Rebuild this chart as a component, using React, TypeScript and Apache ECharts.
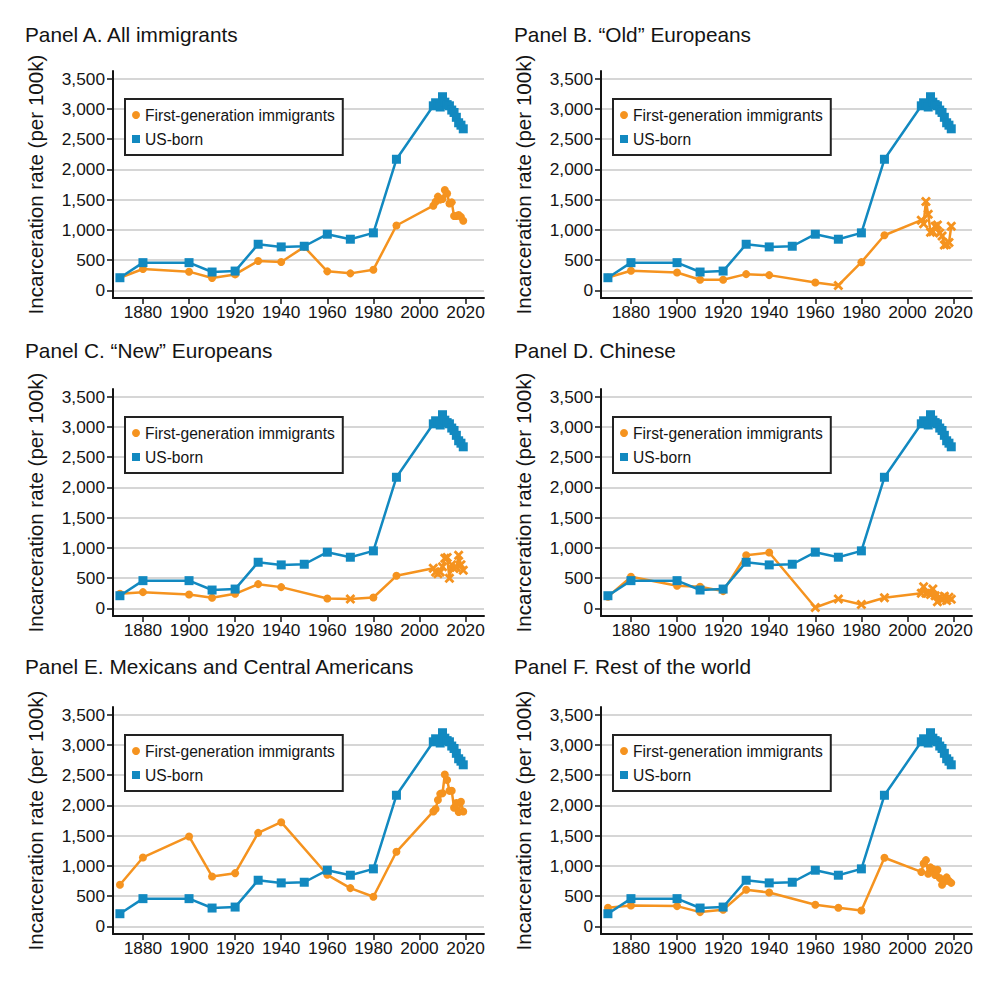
import React, { useEffect, useRef } from "react";
import * as echarts from "echarts";

const YEARS = [1870, 1880, 1900, 1910, 1920, 1930, 1940, 1950, 1960, 1970, 1980, 1990,
  2006, 2007, 2008, 2009, 2010, 2011, 2012, 2013, 2014, 2015, 2016, 2017, 2018, 2019];
const RECENT = [2006, 2007, 2008, 2009, 2010, 2011, 2012, 2013, 2014, 2015, 2016, 2017, 2018, 2019];

const US_BORN = [210, 459, 459, 304, 320, 763, 719, 730, 929, 846, 951, 2167,
  3050, 3100, 3080, 3030, 3200, 3110, 3070, 3050, 2980, 2940, 2860, 2770, 2730, 2670];

const IMM_A = [210, 354, 310, 205, 265, 487, 470, 719, 315, 282, 343, 1073,
  1400, 1465, 1550, 1500, 1510, 1660, 1600, 1435, 1455, 1230, 1230, 1245, 1215, 1150];
const IMM_B = [214, 324, 297, 176, 176, 269, 253, null, 132, 82, 467, 912,
  1160, 1100, 1470, 1260, 960, 970, 1060, 1080, 950, 900, 750, 760, 790, 1060];
const IMM_C = [242, 269, 231, 176, 242, 401, 352, null, 165, 154, 181, 539,
  665, 600, 575, 600, 690, 830, 840, 500, 720, 660, 680, 880, 720, 630];
const IMM_D = [192, 522, 374, 357, 286, 879, 923, null, 16, 154, 66, 176,
  250, 360, 250, 260, 230, 320, 210, 110, 190, 140, 200, 130, 185, 150];
const IMM_E = [688, 1139, 1486, 825, 880, 1546, 1722, null, 853, 633, 490, 1233,
  1900, 1940, 2090, 2190, 2200, 2510, 2420, 2240, 2240, 1960, 2040, 1890, 2060, 1900];
const IMM_F = [308, 347, 336, 237, 275, 605, 561, null, 358, 308, 264, 1134,
  900, 1040, 1095, 870, 975, 950, 850, 935, 800, 690, 740, 810, 750, 720];

// years whose estimate is drawn with an "x" marker
const CROSS_A: number[] = [];
const CROSS_B = [1970, ...RECENT];
const CROSS_C = [1970, ...RECENT];
const CROSS_D = [1960, 1970, 1980, 1990, ...RECENT];
const CROSS_E: number[] = [];
const CROSS_F: number[] = [];

const TITLES = [
  "Panel A. All immigrants",
  "Panel B. \u201COld\u201D Europeans",
  "Panel C. \u201CNew\u201D Europeans",
  "Panel D. Chinese",
  "Panel E. Mexicans and Central Americans",
  "Panel F. Rest of the world",
];
const IMM = [IMM_A, IMM_B, IMM_C, IMM_D, IMM_E, IMM_F];
const CROSSES = [CROSS_A, CROSS_B, CROSS_C, CROSS_D, CROSS_E, CROSS_F];

const Y_TICKS = [0, 500, 1000, 1500, 2000, 2500, 3000, 3500];
const X_TICKS = [1880, 1900, 1920, 1940, 1960, 1980, 2000, 2020];

const IMM_NAME = "First-generation immigrants";
const US_NAME = "US-born";

const ORANGE = "#F5931F";
const BLUE = "#1289C0";
const INK = "#141414";
const FONT = "'Liberation Sans', Arial, Helvetica, sans-serif";
const CROSS_PATH =
  "path://M2,0 L5,3 L8,0 L10,2 L7,5 L10,8 L8,10 L5,7 L2,10 L0,8 L3,5 L0,2 Z";

export default function App() {
  const ref = useRef<HTMLDivElement>(null);
  useEffect(() => {
    if (!ref.current) return;
    const chart = echarts.init(ref.current, undefined, { renderer: "svg" });
    const colLeft = [113, 601];
    const rowTop = [71, 389, 707];
    const titleTop = [24, 340, 656];
    const titleLeft = [25, 514];
    const gw = 371;
    const gh = 227;

    const grids: any[] = [];
    const xAxes: any[] = [];
    const yAxes: any[] = [];
    const series: any[] = [];
    const titles: any[] = [];
    const legends: any[] = [];

    for (let i = 0; i < 6; i++) {
      const c = i % 2;
      const r = Math.floor(i / 2);
      const left = colLeft[c];
      const top = rowTop[r];
      grids.push({ left, top, width: gw, height: gh, containLabel: false });
      titles.push({
        text: TITLES[i],
        left: titleLeft[c],
        top: titleTop[r],
        padding: 0,
        textStyle: { fontSize: 20.8, fontWeight: "normal", color: INK, fontFamily: FONT },
      });
      legends.push({
        left: left + 12,
        top: top + 28,
        orient: "vertical",
        data: [
          { name: IMM_NAME, icon: "circle" },
          { name: US_NAME, icon: "rect" },
        ],
        itemWidth: 8,
        itemHeight: 8,
        itemGap: 8,
        padding: [8, 8, 8, 7],
        borderColor: "#222",
        borderWidth: 2,
        backgroundColor: "#fff",
        textStyle: { fontSize: 15.6, color: INK, fontFamily: FONT },
        selectedMode: false,
      });
      xAxes.push({
        gridIndex: i,
        type: "value",
        min: 1867,
        max: 2028,
        axisLine: { show: true, onZero: false, lineStyle: { color: INK, width: 2 } },
        axisTick: { show: true, customValues: X_TICKS, length: 6, lineStyle: { color: INK, width: 1.5 } },
        axisLabel: {
          customValues: X_TICKS,
          fontSize: 17.3,
          color: INK,
          margin: 5,
          fontFamily: FONT,
          formatter: (v: number) => String(v),
        },
        splitLine: { show: false },
      });
      yAxes.push({
        gridIndex: i,
        type: "value",
        min: -125,
        max: 3625,
        name: "Incarceration rate (per 100k)",
        nameLocation: "middle",
        nameGap: 67,
        nameTextStyle: { fontSize: 20.6, color: INK, fontFamily: FONT },
        axisLine: { show: true, onZero: false, lineStyle: { color: INK, width: 2 } },
        axisTick: { show: true, customValues: Y_TICKS, length: 6, lineStyle: { color: INK, width: 1.5 } },
        axisLabel: {
          customValues: Y_TICKS,
          fontSize: 17.3,
          color: INK,
          margin: 8,
          fontFamily: FONT,
          formatter: (v: number) => v.toLocaleString("en-US"),
        },
        splitLine: { show: true, lineStyle: { color: "#c8c8c8", width: 1.6 } },
      });

      const imm = IMM[i];
      const cross = CROSSES[i];
      const immData: any[] = [];
      YEARS.forEach((yr, k) => {
        const v = imm[k];
        if (v === null || v === undefined) return;
        const isCross = cross.indexOf(yr) >= 0;
        immData.push({
          value: [yr, v],
          symbol: isCross ? CROSS_PATH : "circle",
          symbolSize: isCross ? 10 : 8,
        });
      });
      series.push({
        name: IMM_NAME,
        type: "line",
        xAxisIndex: i,
        yAxisIndex: i,
        data: immData,
        showSymbol: true,
        color: ORANGE,
        lineStyle: { color: ORANGE, width: 2.5 },
        itemStyle: { color: ORANGE },
        z: 2,
      });
      series.push({
        name: US_NAME,
        type: "line",
        xAxisIndex: i,
        yAxisIndex: i,
        data: YEARS.map((yr, k) => [yr, US_BORN[k]]),
        symbol: "rect",
        symbolSize: 9,
        showSymbol: true,
        color: BLUE,
        lineStyle: { color: BLUE, width: 2.5 },
        itemStyle: { color: BLUE },
        z: 3,
      });
    }

    chart.setOption({
      animation: false,
      backgroundColor: "#fff",
      textStyle: { fontFamily: FONT },
      title: titles,
      legend: legends,
      grid: grids,
      xAxis: xAxes,
      yAxis: yAxes,
      series,
    });
    return () => chart.dispose();
  }, []);
  return (
    <div
      ref={ref}
      style={{ position: "absolute", left: 0, top: 0, width: 999, height: 1000 }}
    />
  );
}
